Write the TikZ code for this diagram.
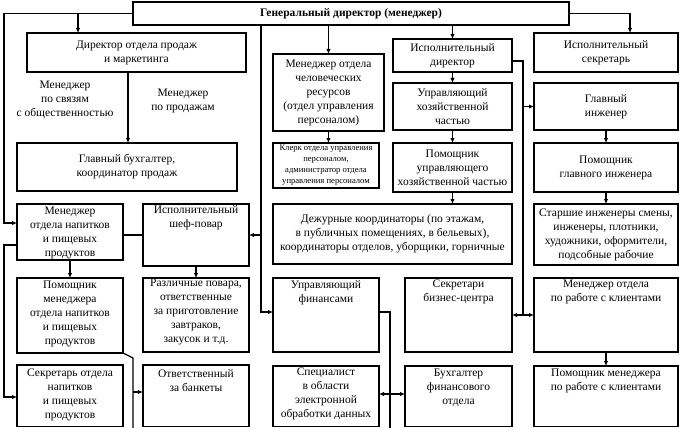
\documentclass[tikz,border=0pt]{standalone}
\usepackage{fontspec}
\setmainfont{Liberation Serif}
\usetikzlibrary{arrows.meta,calc}
\begin{document}
\begin{tikzpicture}[x=1pt,y=-1pt,
  box/.style={draw, line width=1.4pt, inner sep=0pt, outer sep=0pt, anchor=north west},
  txt/.style={align=center, font=\fontsize{11.5}{14}\selectfont, inner sep=0pt},
  small/.style={align=center, font=\fontsize{8.6}{11}\selectfont, inner sep=0pt},
  ln/.style={line width=1.2pt},
  arr/.style={ln, -{Latex[length=5pt,width=4.5pt]}},
  darr/.style={ln, {Latex[length=5pt,width=4.5pt]}-{Latex[length=5pt,width=4.5pt]}}]
\useasboundingbox (0,0) rectangle (680,428);
\newcommand\bx[5]{\node[box, minimum width={(#4)-(#2)}, minimum height={(#5)-(#3)}] (#1) at (#2,#3) {};}
\newcommand\txtop[3]{\node[txt, anchor=north] (#1-t) at ($(#1.north)+(0,#2)$) {#3};}
\newcommand\txc[2]{\node[txt] (#1-t) at (#1.center) {#2};}
% boxes
\bx{gen}{133}{2}{569}{25}
\bx{dirs}{27}{33}{246}{72}
\bx{gbuh}{17}{143}{237}{191}
\bx{hr}{273}{54}{384}{131}
\bx{klerk}{273}{143}{379}{188}
\bx{idir}{393}{39}{512}{72}
\bx{isek}{534}{33}{678}{72}
\bx{uhoz}{393}{83}{512}{130}
\bx{gi}{534}{83}{678}{130}
\bx{puhoz}{393}{143}{512}{192}
\bx{pgi}{534}{143}{678}{192}
\bx{dezh}{273}{204}{512}{264}
\bx{starsh}{534}{204}{678}{265}
\bx{mnap}{17}{204}{123}{260}
\bx{shef}{143}{204}{249}{266}
\bx{pmnap}{17}{278}{123}{353}
\bx{razl}{143}{278}{249}{352}
\bx{snap}{17}{365}{123}{426.5}
\bx{bank}{143}{365}{249}{426.5}
\bx{ufin}{273}{278}{379}{352}
\bx{spec}{273}{366}{379}{426.5}
\bx{sbc}{405}{278}{512}{352}
\bx{buh}{405}{366}{512}{426.5}
\bx{mkl}{534}{278}{678}{352}
\bx{pmkl}{534}{366}{678}{426.5}
% texts
\node[txt, font=\fontsize{11.5}{14}\selectfont\bfseries] (gen-t) at (gen.center) {Генеральный директор (менеджер)};
\txc{dirs}{Директор отдела продаж\\и маркетинга}
\node[txt] (lab1) at (65,100) {Менеджер\\по связям\\с общественностью};
\node[txt] (lab2) at (183,101) {Менеджер\\по продажам};
\txc{gbuh}{Главный бухгалтер,\\координатор продаж}
\txc{hr}{Менеджер отдела\\человеческих\\ресурсов\\(отдел управления\\персоналом)}
\node[small] (klerk-t) at (klerk.center) {Клерк отдела управления\\персоналом,\\администратор отдела\\управления персоналом};
\txc{idir}{Исполнительный\\директор}
\txc{isek}{Исполнительный\\секретарь}
\txc{uhoz}{Управляющий\\хозяйственной\\частью}
\txc{gi}{Главный\\инженер}
\txc{puhoz}{Помощник\\управляющего\\хозяйственной частью}
\txc{pgi}{Помощник\\главного инженера}
\txc{dezh}{Дежурные координаторы (по этажам,\\в публичных помещениях, в бельевых),\\координаторы отделов, уборщики, горничные}
\txc{starsh}{Старшие инженеры смены,\\инженеры, плотники,\\художники, оформители,\\подсобные рабочие}
\txtop{mnap}{3}{Менеджер\\отдела напитков\\и пищевых\\продуктов}
\txtop{shef}{1.5}{Исполнительный\\шеф-повар}
\txtop{pmnap}{3}{Помощник\\менеджера\\отдела напитков\\и пищевых\\продуктов}
\txtop{razl}{1}{Различные повара,\\ответственные\\за приготовление\\завтраков,\\закусок и т.д.}
\txtop{snap}{4}{Секретарь отдела\\напитков\\и пищевых\\продуктов}
\txtop{bank}{4}{Ответственный\\за банкеты}
\txtop{ufin}{2}{Управляющий\\финансами}
\txtop{spec}{2}{Специалист\\в области\\электронной\\обработки данных}
\txtop{sbc}{2}{Секретари\\бизнес-центра}
\txtop{buh}{3}{Бухгалтер\\финансового\\отдела}
\txtop{mkl}{2}{Менеджер отдела\\по работе с клиентами}
\txtop{pmkl}{3}{Помощник менеджера\\по работе с клиентами}
% connectors
\coordinate (tl) at (4,13.5);
\coordinate (j1) at (78,13.5);
\coordinate (ja) at (4,223);
\draw[ln] (gen.west) -- (tl);
\draw[arr] (tl) -- (ja) -- (mnap.west |- ja);
\draw[arr] (j1) -- (dirs.north -| j1);
\coordinate (j3) at (261,312);
\draw[arr] (gen.south -| j3) -- (j3) -- (ufin.west |- j3);
\draw[arr] (shef.east -| j3) -- (shef.east);
\draw[arr] (gen.south -| hr.north) -- (hr.north);
\draw[arr] (hr.south) -- (klerk.north -| hr.south);
\draw[arr] (gen.south -| idir.north) -- (idir.north);
\coordinate (j5) at (630,13.5);
\draw[arr] (gen.east) -- (j5) -- (isek.north -| j5);
\coordinate (j6) at (128,0);
\draw[arr] (dirs.south -| j6) -- (gbuh.north -| j6);
\draw[arr] (idir.south) -- (uhoz.north);
\coordinate (j7) at (523,61);
\draw[ln] (idir.east |- j7) -- (j7) -- (j7 |- mkl.west);
\draw[arr] (j7 |- gi.west) -- (gi.west);
\draw[darr] (sbc.east) -- (mkl.west);
\draw[arr] (uhoz.south) -- (puhoz.north);
\draw[arr] (puhoz.south) -- (dezh.north -| puhoz.south);
\draw[arr] (gi.south) -- (pgi.north);
\draw[arr] (pgi.south) -- (starsh.north);
\draw[ln] (shef.west -| mnap.east) -- (shef.west);
\draw[arr] (mnap.south) -- (pmnap.north);
\draw[arr] (shef.south) -- (razl.north);
\coordinate (j8) at (4,245);
\coordinate (jb) at (4,397);
\draw[arr] (mnap.west |- j8) -- (j8) -- (jb) -- (snap.west |- jb);
\coordinate (j9) at (133,358);
\coordinate (j10) at (133,428);
\coordinate (j11) at (133,392);
\draw[ln] (pmnap.south east) -- (j9) -- (j10);
\draw[arr] (j11) -- (bank.west |- j11);
\coordinate (j12) at (390,312);
\coordinate (j13) at (390,428);
\draw[ln] (ufin.east |- j12) -- (j12) -- (j13);
\coordinate (j14) at (0,394);
\draw[darr] (spec.east |- j14) -- (buh.west |- j14);
\draw[arr] (mkl.south) -- (pmkl.north);
\end{tikzpicture}
\end{document}
